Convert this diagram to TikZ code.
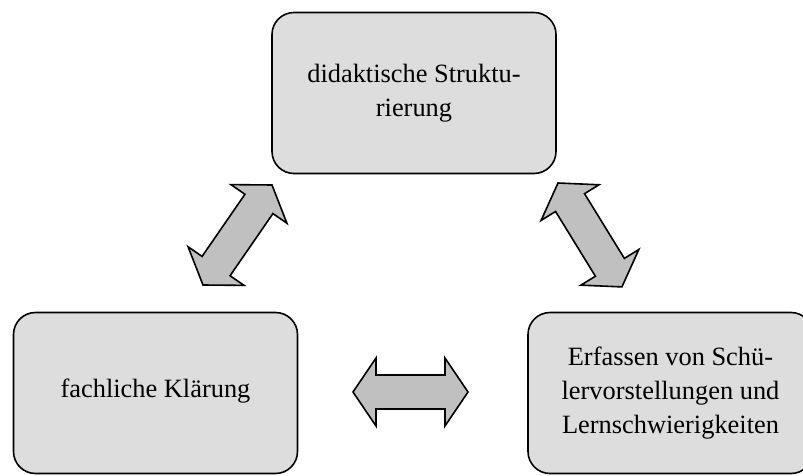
\documentclass[tikz,border=0pt]{standalone}
\usepackage{fontspec}
\setmainfont{Liberation Serif}
\begin{document}
\begin{tikzpicture}[x=1pt,y=1pt,
  box/.style={draw=black, line width=1.6pt, fill=boxgray, rounded corners=22pt,
    minimum width=284pt, minimum height=161pt, inner sep=0pt, align=center,
    font=\fontsize{26.4}{34}\selectfont},
  barrow/.style={draw=black, line width=1.6pt, fill=arrowgray, line join=miter}]
\definecolor{boxgray}{HTML}{DDDDDD}
\definecolor{arrowgray}{HTML}{C0C0C0}
\useasboundingbox (0,0) rectangle (803,475);
\clip (0,0) rectangle (803,475);
\node[box] (top) at (414,382) {didaktische Struktu-\\rierung};
\node[box] (left) at (155.5,82) {fachliche Klärung\\[-24pt]\mbox{}};
\node[box, minimum width=285pt] (right) at (670.5,82) {Erfassen von Schü-\\lervorstellungen und\\Lernschwierigkeiten};
% arrow tips
\coordinate (la) at (203,190);
\coordinate (ra) at (558,292);
\coordinate (ha) at (353,83);
\newcommand{\dblarrow}[3]{%
  \begin{scope}[shift={(#1)}, rotate=#2]
    \draw[barrow] (0,0) -- (23,34) -- (23,17) -- ({#3-23},17) -- ({#3-23},34) -- (#3,0)
      -- ({#3-23},-34) -- ({#3-23},-17) -- (23,-17) -- (23,-34) -- cycle;
  \end{scope}}
\dblarrow{la}{55.4}{121.5}
\dblarrow{ra}{-58.4}{122}
\dblarrow{ha}{0}{115}
\end{tikzpicture}
\end{document}
